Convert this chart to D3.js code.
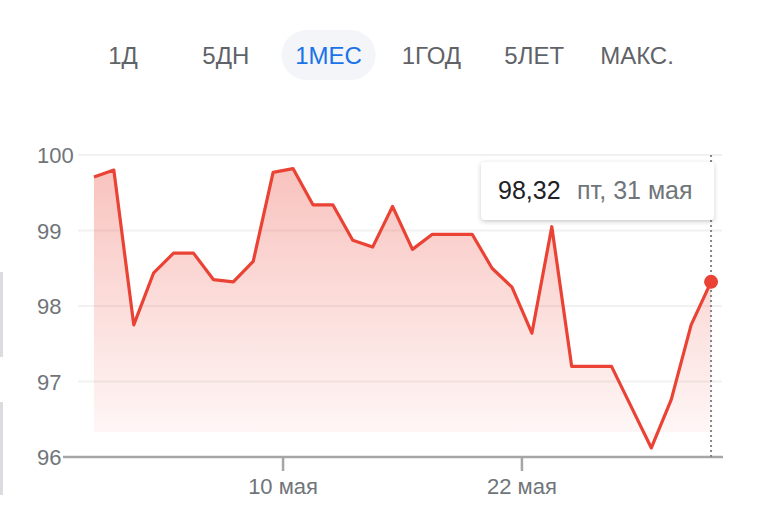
<!DOCTYPE html>
<html>
<head>
<meta charset="utf-8">
<script src="https://cdn.jsdelivr.net/npm/d3@7"></script>
<style>
  html, body { margin: 0; padding: 0; background: #fff; }
  svg { display: block; font-family: "Liberation Sans", Arial, sans-serif; }
</style>
</head>
<body>
<div id="chart"></div>
<script>
//////// DATA ////////
var tabs = ["1Д", "5ДН", "1МЕС", "1ГОД", "5ЛЕТ", "МАКС."];
var activeTab = "1МЕС";

var days = [
  "2024-04-30", "2024-05-01", "2024-05-02", "2024-05-03", "2024-05-04", "2024-05-05",
  "2024-05-06", "2024-05-07", "2024-05-08", "2024-05-09", "2024-05-10", "2024-05-11",
  "2024-05-12", "2024-05-13", "2024-05-14", "2024-05-15", "2024-05-16", "2024-05-17",
  "2024-05-18", "2024-05-19", "2024-05-20", "2024-05-21", "2024-05-22", "2024-05-23",
  "2024-05-24", "2024-05-25", "2024-05-26", "2024-05-27", "2024-05-28", "2024-05-29",
  "2024-05-30", "2024-05-31"
];
var prices = [
  99.71, 99.80, 97.75, 98.44, 98.70, 98.70,
  98.35, 98.32, 98.59, 99.77, 99.82, 99.34,
  99.34, 98.87, 98.78, 99.32, 98.75, 98.95,
  98.95, 98.95, 98.50, 98.25, 97.64, 99.05,
  97.20, 97.20, 97.20, 96.66, 96.12, 96.76,
  97.75, 98.32
];
var yTicks = [96, 97, 98, 99, 100];
var xTickDays = ["2024-05-10", "2024-05-22"];
var xTickLabels = ["10 мая", "22 мая"];
var areaFloor = 96.33;
var tooltipValue = "98,32";
var tooltipDate = "пт, 31 мая";

//////// CANVAS ////////
var width = 760, height = 518;
var svg = d3.select("#chart").append("svg")
  .attr("width", width).attr("height", height);

var parse = d3.timeParse("%Y-%m-%d");
var data = days.map(function(d, i) {
  return { date: d3.timeHour.offset(parse(d), 12), value: prices[i] };
});

//////// SCALES ////////
var x = d3.scaleTime()
  .domain([parse("2024-04-30"), parse("2024-06-01")])
  .range([84, 721]);
var y = d3.scaleLinear().domain([96, 100]).range([457, 155]);

//////// TABS ////////
var tabX = d3.scalePoint().domain(tabs).range([123, 637]);
var tabG = svg.append("g");
tabG.append("rect")
  .attr("x", tabX(activeTab) - 47).attr("y", 30)
  .attr("width", 94).attr("height", 50).attr("rx", 25)
  .attr("fill", "#f3f5f9");
tabG.selectAll("text").data(tabs).enter().append("text")
  .attr("x", function(d) { return tabX(d); })
  .attr("y", 64)
  .attr("text-anchor", "middle")
  .style("font-size", "24px")
  .attr("fill", function(d) { return d === activeTab ? "#1a73e8" : "#5f6368"; })
  .text(function(d) { return d; });

//////// LEFT EDGE FRAGMENTS ////////
svg.append("rect").attr("x", 0).attr("y", 272).attr("width", 3).attr("height", 85).attr("fill", "#dadce0");
svg.append("rect").attr("x", 0).attr("y", 402).attr("width", 3).attr("height", 93).attr("fill", "#dadce0");

//////// GRID ////////
svg.append("g").selectAll("line").data(yTicks.filter(function(d) { return d > 96; }))
  .enter().append("line")
  .attr("x1", 78).attr("x2", 722)
  .attr("y1", function(d) { return y(d); }).attr("y2", function(d) { return y(d); })
  .attr("stroke", "#f1f1f1").attr("stroke-width", 2);

svg.append("g").selectAll("text").data(yTicks).enter().append("text")
  .attr("x", 37)
  .attr("y", function(d) { return y(d) + 8; })
  .style("font-size", "22px")
  .attr("fill", "#70757a")
  .text(function(d) { return d; });

//////// AREA + LINE ////////
var defs = svg.append("defs");
var grad = defs.append("linearGradient").attr("id", "fillGrad")
  .attr("x1", 0).attr("y1", 0).attr("x2", 0).attr("y2", 1);
grad.append("stop").attr("offset", "0%").attr("stop-color", "#ea4335").attr("stop-opacity", 0.32);
grad.append("stop").attr("offset", "100%").attr("stop-color", "#ea4335").attr("stop-opacity", 0.03);

var area = d3.area()
  .x(function(d) { return x(d.date); })
  .y0(y(areaFloor))
  .y1(function(d) { return y(d.value); });

svg.append("path").datum(data)
  .attr("d", area)
  .attr("fill", "url(#fillGrad)");

// Baseline and ticks
svg.append("line")
  .attr("x1", 63).attr("x2", 723)
  .attr("y1", y(96)).attr("y2", y(96))
  .attr("stroke", "#a6a6a6").attr("stroke-width", 2.5);

var xg = svg.append("g");
xg.selectAll("line").data(xTickDays).enter().append("line")
  .attr("x1", function(d) { return x(parse(d)); })
  .attr("x2", function(d) { return x(parse(d)); })
  .attr("y1", y(96)).attr("y2", y(96) + 14)
  .attr("stroke", "#a6a6a6").attr("stroke-width", 2.5);
xg.selectAll("text").data(xTickDays).enter().append("text")
  .attr("x", function(d) { return x(parse(d)); })
  .attr("y", 494)
  .attr("text-anchor", "middle")
  .style("font-size", "22px")
  .attr("fill", "#70757a")
  .text(function(d, i) { return xTickLabels[i]; });

var line = d3.line()
  .x(function(d) { return x(d.date); })
  .y(function(d) { return y(d.value); });

svg.append("path").datum(data)
  .attr("d", line)
  .attr("fill", "none")
  .attr("stroke", "#ea4335")
  .attr("stroke-width", 3.2)
  .attr("stroke-linejoin", "round");

//////// HOVER MARKER + TOOLTIP ////////
var last = data[data.length - 1];
var lx = x(last.date);

svg.append("line")
  .attr("x1", lx).attr("x2", lx)
  .attr("y1", y(100)).attr("y2", y(96))
  .attr("stroke", "#80868b").attr("stroke-width", 2)
  .attr("stroke-dasharray", "2,3");

svg.append("circle")
  .attr("cx", lx).attr("cy", y(last.value)).attr("r", 7)
  .attr("fill", "#ea4335");

var filter = defs.append("filter").attr("id", "shadow")
  .attr("x", "-10%").attr("y", "-20%").attr("width", "120%").attr("height", "150%");
filter.append("feDropShadow").attr("dx", 0).attr("dy", 1.5)
  .attr("stdDeviation", 2).attr("flood-color", "#3c4043").attr("flood-opacity", 0.3);

var tip = svg.append("g").attr("transform", "translate(" + (lx - 230) + ",162)");
tip.append("rect")
  .attr("width", 233).attr("height", 58).attr("rx", 4)
  .attr("fill", "#fff").attr("filter", "url(#shadow)");
tip.append("text")
  .attr("x", 17).attr("y", 37)
  .style("font-size", "25px")
  .attr("fill", "#202124")
  .text(tooltipValue);
tip.append("text")
  .attr("x", 96).attr("y", 37)
  .style("font-size", "25px")
  .attr("fill", "#70757a")
  .text(tooltipDate);
</script>
</body>
</html>
